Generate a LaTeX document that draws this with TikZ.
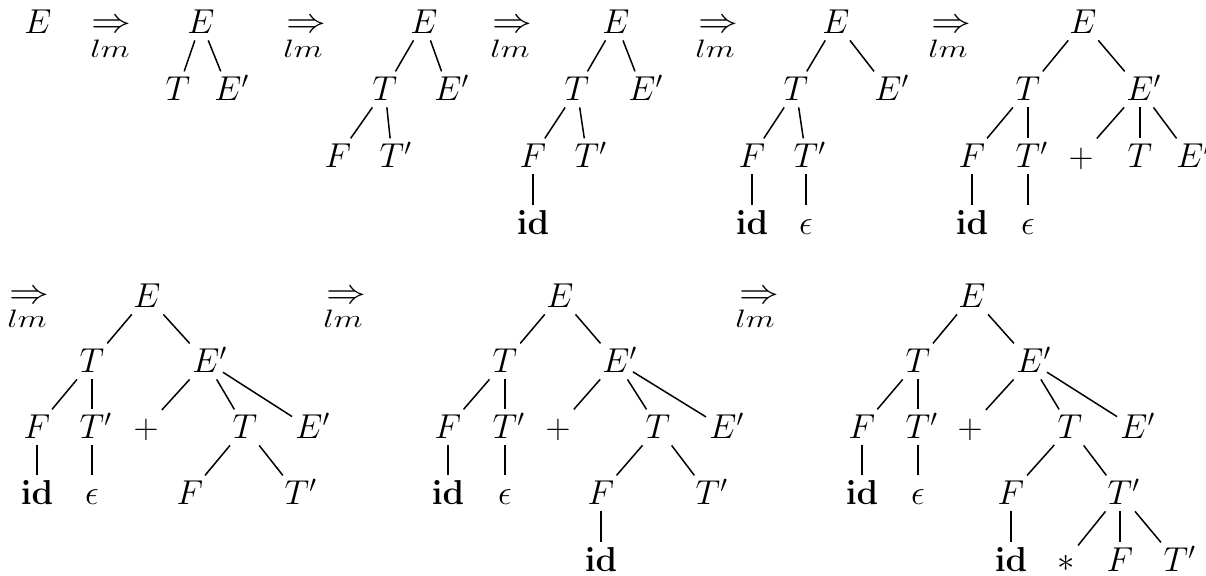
\documentclass[tikz,border=0pt]{standalone}
\usepackage{graphicx}
\newcommand\primed[1]{#1\rlap{$'$}}
\newcommand\lmlabel{\scalebox{1.4}[1.05]{$\scriptstyle lm$}}
\newcommand\darrow{\scalebox{1.15}[1]{$\Rightarrow$}}
\begin{document}
\begin{tikzpicture}[x=0.5pt,y=-0.5pt,
  sym/.style={font=\fontsize{17}{20}\selectfont, anchor=base, inner xsep=1.5pt, inner ysep=3pt, text height=11.6pt, text depth=0pt},
  br/.style={line width=0.75pt},
  arr/.style={font=\fontsize{17}{20}\selectfont, anchor=base, inner sep=0pt}]
\useasboundingbox (0,0) rectangle (1206,576);
\clip (0,0) rectangle (1206,576);

% ---------- row 1 ----------
\node[sym] (a0) at (38,34) {$E$};

\node[arr] (r1) at (111,33) {\darrow};
\node[arr] (r1l) at (110,58) {\lmlabel};

\node[sym] (b0) at (201,34) {$E$};
\node[sym] (b1) at (178,101) {$T$};
\node[sym] (b2) at (228,101) {$\primed{E}$};
\draw[br] (b0) -- (b1); \draw[br] (b0) -- (b2);

\node[arr] (r2) at (306,33) {\darrow};
\node[arr] (r2l) at (303,58) {\lmlabel};

\node[sym] (c0) at (424,34) {$E$};
\node[sym] (c1) at (385,101) {$T$};
\node[sym] (c2) at (448,101) {$\primed{E}$};
\node[sym] (c3) at (338,168) {$F$};
\node[sym] (c4) at (392,168) {$\primed{T}$};
\draw[br] (c0) -- (c1); \draw[br] (c0) -- (c2);
\draw[br] (c1) -- (c3); \draw[br] (c1) -- (c4);

\node[arr] (r3) at (512,33) {\darrow};
\node[arr] (r3l) at (510,58) {\lmlabel};

\node[sym] (d0) at (616,34) {$E$};
\node[sym] (d1) at (577,101) {$T$};
\node[sym] (d2) at (642,101) {$\primed{E}$};
\node[sym] (d3) at (533,168) {$F$};
\node[sym] (d4) at (587,168) {$\primed{T}$};
\node[sym] (d5) at (533,235) {$\mathbf{id}$};
\draw[br] (d0) -- (d1); \draw[br] (d0) -- (d2);
\draw[br] (d1) -- (d3); \draw[br] (d1) -- (d4);
\draw[br] (d3) -- (d5);

\node[arr] (r4) at (718,33) {\darrow};
\node[arr] (r4l) at (715,58) {\lmlabel};

\node[sym] (e0) at (836,34) {$E$};
\node[sym] (e1) at (796,101) {$T$};
\node[sym] (e2) at (888,101) {$\primed{E}$};
\node[sym] (e3) at (752,168) {$F$};
\node[sym] (e4) at (806,168) {$\primed{T}$};
\node[sym] (e5) at (752,235) {$\mathbf{id}$};
\node[sym] (e6) at (806,235) {$\epsilon$};
\draw[br] (e0) -- (e1); \draw[br] (e0) -- (e2);
\draw[br] (e1) -- (e3); \draw[br] (e1) -- (e4);
\draw[br] (e3) -- (e5); \draw[br] (e4) -- (e6);

\node[arr] (r5) at (951,33) {\darrow};
\node[arr] (r5l) at (948,58) {\lmlabel};

\node[sym] (f0) at (1083,34) {$E$};
\node[sym] (f1) at (1028,101) {$T$};
\node[sym] (f2) at (1140,101) {$\primed{E}$};
\node[sym] (f3) at (972,168) {$F$};
\node[sym] (f4) at (1028,168) {$\primed{T}$};
\node[sym] (f5) at (1081,168) {$+$};
\node[sym] (f6) at (1140,168) {$T$};
\node[sym] (f7) at (1190,168) {$\primed{E}$};
\node[sym] (f8) at (972,235) {$\mathbf{id}$};
\node[sym] (f9) at (1028,235) {$\epsilon$};
\draw[br] (f0) -- (f1); \draw[br] (f0) -- (f2);
\draw[br] (f1) -- (f3); \draw[br] (f1) -- (f4);
\draw[br] (f2) -- (f5); \draw[br] (f2) -- (f6); \draw[br] (f2) -- (f7);
\draw[br] (f3) -- (f8); \draw[br] (f4) -- (f9);

% ---------- row 2 ----------
\node[arr] (r6) at (29,304) {\darrow};
\node[arr] (r6l) at (27,328) {\lmlabel};

\node[sym] (g0) at (147,308) {$E$};
\node[sym] (g1) at (92,373) {$T$};
\node[sym] (g2) at (206,373) {$\primed{E}$};
\node[sym] (g3) at (37,439) {$F$};
\node[sym] (g4) at (92,439) {$\primed{T}$};
\node[sym] (g5) at (146,439) {$+$};
\node[sym] (g6) at (245,439) {$T$};
\node[sym] (g7) at (309,439) {$\primed{E}$};
\node[sym] (g8) at (37,505) {$\mathbf{id}$};
\node[sym] (g9) at (92,505) {$\epsilon$};
\node[sym] (g10) at (190,505) {$F$};
\node[sym] (g11) at (297,505) {$\primed{T}$};
\draw[br] (g0) -- (g1); \draw[br] (g0) -- (g2);
\draw[br] (g1) -- (g3); \draw[br] (g1) -- (g4);
\draw[br] (g2) -- (g5); \draw[br] (g2) -- (g6); \draw[br] (g2) -- (g7);
\draw[br] (g3) -- (g8); \draw[br] (g4) -- (g9);
\draw[br] (g6) -- (g10); \draw[br] (g6) -- (g11);

\node[arr] (r7) at (346,304) {\darrow};
\node[arr] (r7l) at (343,328) {\lmlabel};

\node[sym] (h0) at (560,308) {$E$};
\node[sym] (h1) at (505,373) {$T$};
\node[sym] (h2) at (616,373) {$\primed{E}$};
\node[sym] (h3) at (448,439) {$F$};
\node[sym] (h4) at (505,439) {$\primed{T}$};
\node[sym] (h5) at (558,439) {$+$};
\node[sym] (h6) at (658,439) {$T$};
\node[sym] (h7) at (723,439) {$\primed{E}$};
\node[sym] (h8) at (448,505) {$\mathbf{id}$};
\node[sym] (h9) at (505,505) {$\epsilon$};
\node[sym] (h10) at (601,505) {$F$};
\node[sym] (h11) at (708,505) {$\primed{T}$};
\node[sym] (h12) at (601,572) {$\mathbf{id}$};
\draw[br] (h0) -- (h1); \draw[br] (h0) -- (h2);
\draw[br] (h1) -- (h3); \draw[br] (h1) -- (h4);
\draw[br] (h2) -- (h5); \draw[br] (h2) -- (h6); \draw[br] (h2) -- (h7);
\draw[br] (h3) -- (h8); \draw[br] (h4) -- (h9);
\draw[br] (h6) -- (h10); \draw[br] (h6) -- (h11);
\draw[br] (h10) -- (h12);

\node[arr] (r8) at (759,304) {\darrow};
\node[arr] (r8l) at (755,328) {\lmlabel};

\node[sym] (i0) at (972,308) {$E$};
\node[sym] (i1) at (918,373) {$T$};
\node[sym] (i2) at (1030,373) {$\primed{E}$};
\node[sym] (i3) at (862,439) {$F$};
\node[sym] (i4) at (918,439) {$\primed{T}$};
\node[sym] (i5) at (970,439) {$+$};
\node[sym] (i6) at (1070,439) {$T$};
\node[sym] (i7) at (1134,439) {$\primed{E}$};
\node[sym] (i8) at (862,505) {$\mathbf{id}$};
\node[sym] (i9) at (918,505) {$\epsilon$};
\node[sym] (i10) at (1011,505) {$F$};
\node[sym] (i11) at (1120,505) {$\primed{T}$};
\node[sym] (i12) at (1011,572) {$\mathbf{id}$};
\node[sym] (i13) at (1066,572) {$*$};
\node[sym] (i14) at (1120,572) {$F$};
\node[sym] (i15) at (1176,572) {$\primed{T}$};
\draw[br] (i0) -- (i1); \draw[br] (i0) -- (i2);
\draw[br] (i1) -- (i3); \draw[br] (i1) -- (i4);
\draw[br] (i2) -- (i5); \draw[br] (i2) -- (i6); \draw[br] (i2) -- (i7);
\draw[br] (i3) -- (i8); \draw[br] (i4) -- (i9);
\draw[br] (i6) -- (i10); \draw[br] (i6) -- (i11);
\draw[br] (i10) -- (i12);
\draw[br] (i11) -- (i13); \draw[br] (i11) -- (i14); \draw[br] (i11) -- (i15);
\end{tikzpicture}
\end{document}
